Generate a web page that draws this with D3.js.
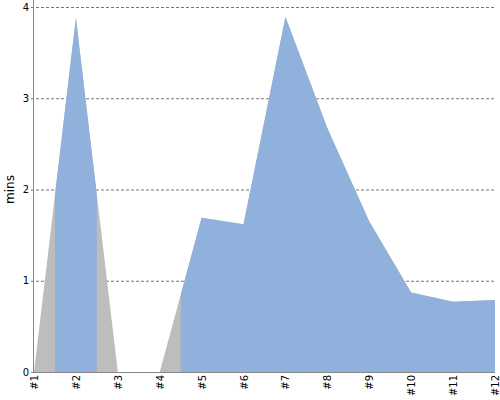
<!DOCTYPE html>
<html>
<head>
<meta charset="utf-8">
<script src="https://cdn.jsdelivr.net/npm/d3@7"></script>
<style>
	body { margin: 0; background: #fff; }
	svg { font-family: "DejaVu Sans", sans-serif; }
</style>
</head>
<body>
<svg></svg>
<script>
let labels = ['#1', '#2', '#3', '#4', '#5', '#6', '#7', '#8', '#9', '#10', '#11', '#12'];
let values = [0, 3.88, 0, 0, 1.69, 1.62, 3.89, 2.67, 1.65, 0.87, 0.77, 0.79];
// which points get the blue highlight band
let highlighted = [false, true, false, false, true, true, true, true, true, true, true, true];
let yTicks = [0, 1, 2, 3, 4];

let width = 500;
let height = 400;
let margin = {top: 7, right: 5, bottom: 28, left: 34};

let svg = d3.select('svg')
	.attr('width', width)
	.attr('height', height);

let x = d3.scalePoint()
	.domain(labels)
	.range([margin.left, width - margin.right]);

let y = d3.scaleLinear()
	.domain([0, 4])
	.range([height - margin.bottom, margin.top]);

// gridlines
svg.append('g')
	.selectAll('line')
	.data(yTicks.filter(d => d > 0))
	.enter().append('line')
	.attr('x1', margin.left - 3)
	.attr('x2', width - margin.right)
	.attr('y1', d => y(d) + 0.5)
	.attr('y2', d => y(d) + 0.5)
	.attr('stroke', '#777')
	.attr('stroke-dasharray', '3,2')
	.attr('stroke-width', 1);

let data = labels.map((l, i) => ({label: l, value: values[i], hl: highlighted[i]}));

let area = d3.area()
	.x(d => x(d.label))
	.y0(y(0))
	.y1(d => y(d.value));

// base gray area
svg.append('path')
	.datum(data)
	.attr('fill', '#bdbdbd')
	.attr('d', area);

// blue bands: clip the same area to half a step each side of highlighted points
let step = x.step();
let clip = svg.append('defs').append('clipPath').attr('id', 'hl');
clip.selectAll('rect')
	.data(data.filter(d => d.hl))
	.enter().append('rect')
	.attr('x', d => Math.max(margin.left, x(d.label) - step / 2))
	.attr('width', d => Math.min(width - margin.right, x(d.label) + step / 2) - Math.max(margin.left, x(d.label) - step / 2))
	.attr('y', 0)
	.attr('height', height);

svg.append('path')
	.datum(data)
	.attr('fill', '#8fb1db')
	.attr('clip-path', 'url(#hl)')
	.attr('d', area);

// y axis
svg.append('line')
	.attr('x1', margin.left - 0.5).attr('x2', margin.left - 0.5)
	.attr('y1', 0).attr('y2', y(0))
	.attr('stroke', '#888');

svg.append('g')
	.selectAll('text')
	.data(yTicks)
	.enter().append('text')
	.attr('x', margin.left - 5)
	.attr('y', d => y(d))
	.attr('dy', '0.35em')
	.attr('text-anchor', 'end')
	.attr('font-size', 10)
	.attr('fill', '#000')
	.text(d => d);

// x axis line
svg.append('line')
	.attr('x1', margin.left - 3).attr('x2', width - margin.right)
	.attr('y1', y(0) + 0.5).attr('y2', y(0) + 0.5)
	.attr('stroke', '#888');

svg.append('g')
	.selectAll('text')
	.data(labels)
	.enter().append('text')
	.attr('transform', d => 'translate(' + (x(d) + 4) + ',' + (y(0) + 3) + ') rotate(-90)')
	.attr('text-anchor', 'end')
	.attr('font-size', 10)
	.attr('fill', '#000')
	.text(d => d);

// y label
svg.append('text')
	.attr('transform', 'translate(14,' + y(2) + ') rotate(-90)')
	.attr('text-anchor', 'middle')
	.attr('font-size', 12)
	.attr('fill', '#000')
	.text('mins');
</script>
</body>
</html>
